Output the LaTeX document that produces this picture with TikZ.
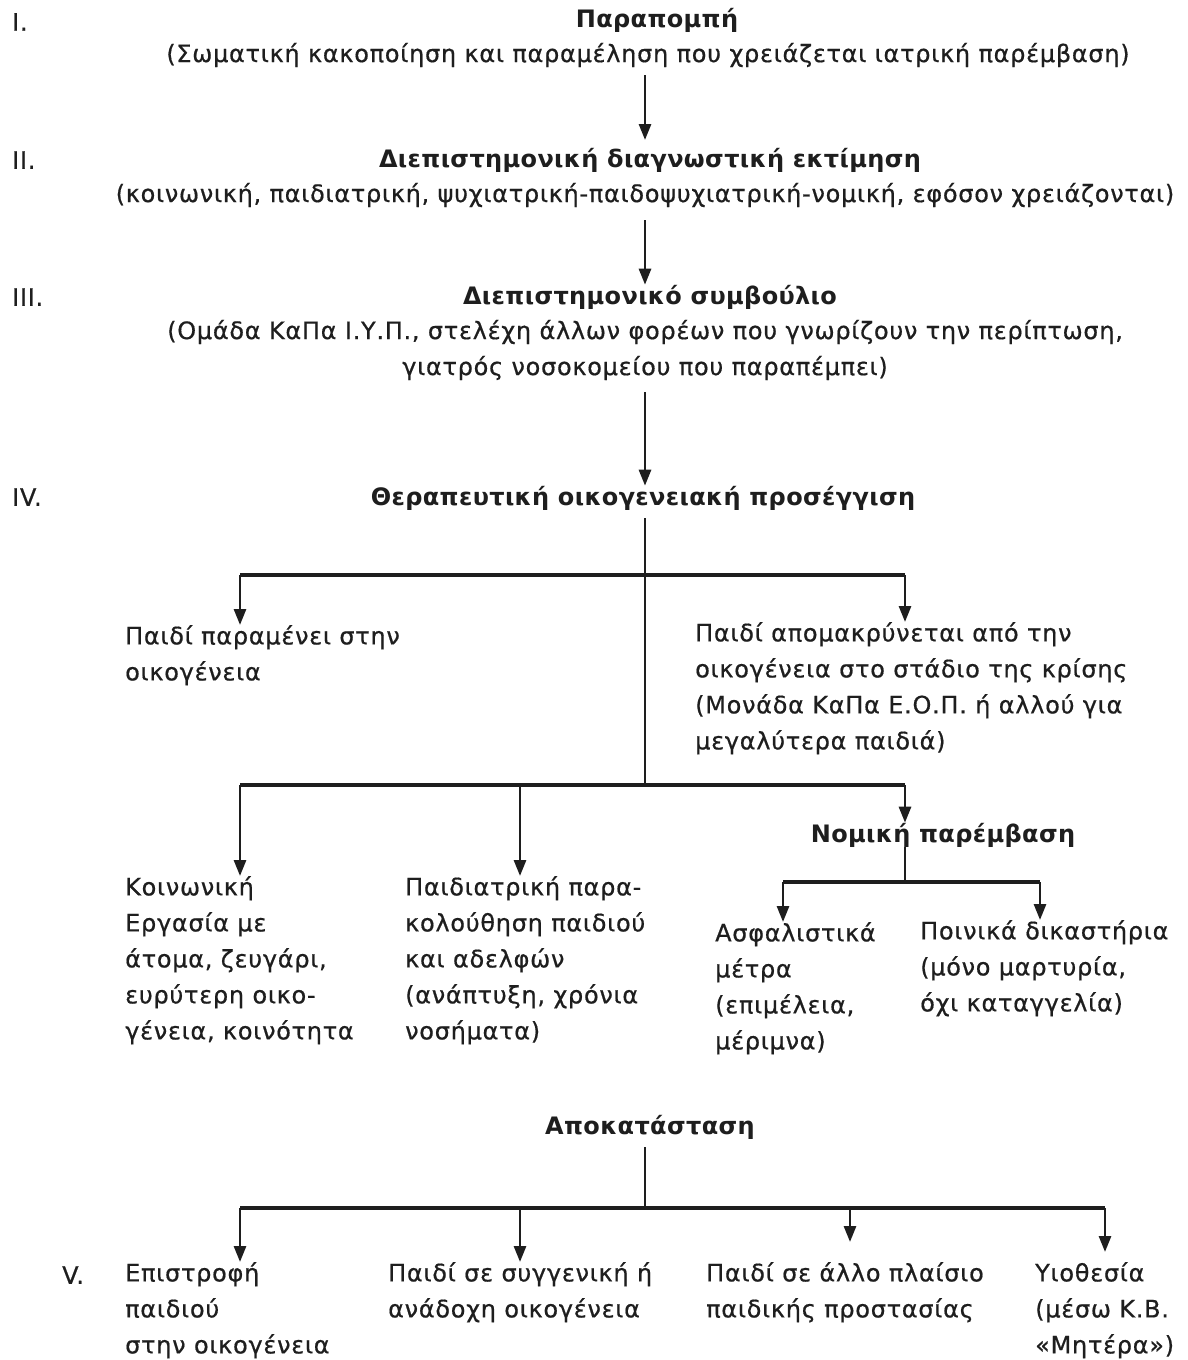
\documentclass[tikz,border=0pt]{standalone}
\usepackage{fontspec}
\setmainfont{DejaVu Sans}[LetterSpace=3,FakeBold=0.6]
\newfontfamily\hfont{DejaVu Sans Bold}[LetterSpace=1.5]
\usetikzlibrary{arrows.meta}
\definecolor{ink}{HTML}{1E1E1E}
\begin{document}
\begin{tikzpicture}[x=1pt,y=-1pt,
  every node/.style={inner sep=0pt, text=ink, font=\fontsize{24}{36}\selectfont},
  head/.style={font=\fontsize{24}{36}\selectfont\hfont},
  block/.style={anchor=north west, align=left},
  roman/.style={anchor=west},
  arr/.style={draw=ink, line width=2.8pt, -{Triangle[length=16pt,width=12pt]}},
  bar/.style={draw=ink, line width=4.2pt},
  trunk/.style={draw=ink, line width=2.8pt}]
\useasboundingbox[fill=white] (0,0) rectangle (1187,1360);

% roman numerals
\node[roman] (r1) at (12,22) {I.};
\node[roman] (r2) at (12,160) {II.};
\node[roman] (r3) at (12,297) {III.};
\node[roman] (r4) at (12,497) {IV.};
\node[roman] (r5) at (62,1275) {V.};

% main column
\node[head] (t1) at (657,20) {Παραπομπή};
\node (s1) at (648,55) {(Σωματική κακοποίηση και παραμέληση που χρειάζεται ιατρική παρέμβαση)};
\node[head] (t2) at (650,160) {Διεπιστημονική διαγνωστική εκτίμηση};
\node (s2) at (645,195) {(κοινωνική, παιδιατρική, ψυχιατρική-παιδοψυχιατρική-νομική, εφόσον χρειάζονται)};
\node[head] (t3) at (650,297) {Διεπιστημονικό συμβούλιο};
\node[align=center] (s3) at (645,350) {(Ομάδα ΚαΠα Ι.Υ.Π., στελέχη άλλων φορέων που γνωρίζουν την περίπτωση,\\γιατρός νοσοκομείου που παραπέμπει)};
\node[head] (t4) at (643,498) {Θεραπευτική οικογενειακή προσέγγιση};

\draw[arr] (s1.south -| 645,0) ++(0,8) -- (645,140);
\draw[arr] (645,220) -- (t3.north -| 645,0);
\draw[arr] (645,392) -- (t4.north -| 645,0);

% first branching
\coordinate (j1) at (645,575);
\coordinate (j2) at (645,785);
\coordinate (b1l) at (240,575);
\coordinate (b1r) at (905,575);
\draw[trunk] (t4.south -| 645,0) ++(0,8) -- (j2);
\draw[bar] (b1l) -- (b1r);

\node[block] (a1) at (125,625) {Παιδί παραμένει στην\\οικογένεια};
\node[block] (a2) at (695,622) {Παιδί απομακρύνεται από την\\οικογένεια στο στάδιο της κρίσης\\(Μονάδα ΚαΠα Ε.Ο.Π. ή αλλού για\\μεγαλύτερα παιδιά)};

\draw[arr] (b1l) -- (b1l |- a1.north);
\draw[arr] (b1r) -- (b1r |- a2.north);

% second branching
\coordinate (b2l) at (240,785);
\coordinate (b2m) at (520,785);
\coordinate (b2r) at (905,785);
\draw[bar] (b2l) -- (b2r);

\node[block] (c1) at (125,876) {Κοινωνική\\Εργασία με\\άτομα, ζευγάρι,\\ευρύτερη οικο-\\γένεια, κοινότητα};
\node[block] (c2) at (405,876) {Παιδιατρική παρα-\\κολούθηση παιδιού\\και αδελφών\\(ανάπτυξη, χρόνια\\νοσήματα)};
\node[head] (n1) at (943,835) {Νομική παρέμβαση};

\draw[arr] (b2l) -- (b2l |- c1.north);
\draw[arr] (b2m) -- (b2m |- c2.north);
\draw[arr] (b2r) -- (b2r |- n1.north);

% legal branching
\coordinate (nj) at (905,882);
\coordinate (nl) at (783,882);
\coordinate (nr) at (1040,882);
\draw[trunk] (n1.south -| nj) -- (nj);
\draw[bar] (nl) -- (nr);

\node[block] (d1) at (715,922) {Ασφαλιστικά\\μέτρα\\(επιμέλεια,\\μέριμνα)};
\node[block] (d2) at (920,920) {Ποινικά δικαστήρια\\(μόνο μαρτυρία,\\όχι καταγγελία)};

\draw[arr] (nl) -- (nl |- d1.north);
\draw[arr] (nr) -- (nr |- d2.north);

% rehabilitation
\node[head] (p0) at (650,1127) {Αποκατάσταση};
\coordinate (pj) at (645,1208);
\coordinate (p1) at (240,1208);
\coordinate (p2) at (520,1208);
\coordinate (p3) at (850,1208);
\coordinate (p4) at (1105,1208);
\draw[trunk] (p0.south -| pj) ++(0,8) -- (pj);
\draw[bar] (p1) -- (p4);

\node[block] (e1) at (125,1262) {Επιστροφή\\παιδιού\\στην οικογένεια};
\node[block] (e2) at (388,1262) {Παιδί σε συγγενική ή\\ανάδοχη οικογένεια};
\node[block] (e3) at (706,1262) {Παιδί σε άλλο πλαίσιο\\παιδικής προστασίας};
\node[block] (e4) at (1035,1262) {Υιοθεσία\\(μέσω Κ.Β.\\«Μητέρα»)};

\draw[arr] (p1) -- (p1 |- e1.north);
\draw[arr] (p2) -- (p2 |- e2.north);
\draw[arr] (p3) -- ([yshift=20pt]p3 |- e3.north);
\draw[arr] (p4) -- ([yshift=10pt]p4 |- e4.north);
\end{tikzpicture}
\end{document}
